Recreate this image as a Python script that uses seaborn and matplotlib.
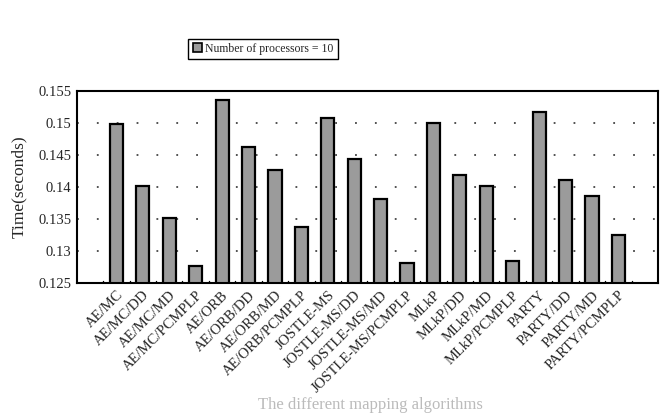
import numpy as np
import pandas as pd
import matplotlib
matplotlib.use('Agg')
import matplotlib.pyplot as plt
import seaborn as sns
from matplotlib.patches import Patch

# ── data ────────────────────────────────────────────────────
methods = [
    "AE/MC", "AE/MC/DD", "AE/MC/MD", "AE/MC/PCMPLP",
    "AE/ORB", "AE/ORB/DD", "AE/ORB/MD", "AE/ORB/PCMPLP",
    "JOSTLE-MS", "JOSTLE-MS/DD", "JOSTLE-MS/MD", "JOSTLE-MS/PCMPLP",
    "MLkP", "MLkP/DD", "MLkP/MD", "MLkP/PCMPLP",
    "PARTY", "PARTY/DD", "PARTY/MD", "PARTY/PCMPLP",
]
times = [
    0.1498, 0.1402, 0.1352, 0.1276,
    0.1536, 0.1463, 0.1426, 0.1337,
    0.1508, 0.1443, 0.1381, 0.1282,
    0.1500, 0.1418, 0.1402, 0.1285,
    0.1517, 0.1411, 0.1386, 0.1325,
]
yticks = [0.125, 0.13, 0.135, 0.14, 0.145, 0.15, 0.155]
ytick_labels = ["0.125", "0.13", "0.135", "0.14", "0.145", "0.15", "0.155"]
legend_label = "Number of processors = 10"

df = pd.DataFrame({"method": methods, "time": times})

sns.set_style("white")
plt.rcParams['font.family'] = ['Liberation Serif', 'DejaVu Serif']

fig = plt.figure(figsize=(6.68, 4.15), dpi=100)
ax = fig.add_axes([0.115, 0.318, 0.870, 0.463])

sns.barplot(data=df, x="method", y="time", color="#9b9b9b",
            edgecolor="black", linewidth=1.6, width=0.5, saturation=1, ax=ax)

ax.set_ylim(0.125, 0.155)
ax.set_xlim(-1.5, len(methods) + 0.5)
ax.set_yticks(yticks)
ax.set_yticklabels(ytick_labels, fontsize=10.5)
ax.set_xticks(range(len(methods)))
ax.set_xticklabels(methods, rotation=45, ha="right", rotation_mode="anchor",
                   fontsize=10.5)
ax.tick_params(axis="x", length=0, pad=4)
ax.tick_params(axis="y", length=0, pad=4)

# small boundary ticks between categories, pointing up
for xb in np.arange(-0.5, len(methods), 1.0):
    ax.plot([xb, xb], [0.125, 0.1253], color="black", lw=1, zorder=0)

# dotted gridlines
for yv in yticks[1:-1]:
    ax.axhline(yv, color="#444444", lw=1.3, ls=(0, (1, 10)), zorder=0)

for s in ax.spines.values():
    s.set_linewidth(1.5)
    s.set_color("black")

ax.set_xlabel("")
ax.set_ylabel("Time(seconds)", fontsize=12.5, labelpad=8)

handle = Patch(facecolor="#9b9b9b", edgecolor="black", linewidth=1.2)
fig.legend([handle], [legend_label], loc="center", bbox_to_anchor=(0.394, 0.882),
           fontsize=8.5, frameon=True, fancybox=False, edgecolor="black",
           handlelength=0.8, handleheight=0.8, handletextpad=0.3,
           borderpad=0.35, framealpha=1)

fig.text(0.554, 0.005, "The different mapping algorithms", ha="center",
         va="bottom", fontsize=12, color="#bbbbbb")

fig.savefig("out.png", dpi=100)
